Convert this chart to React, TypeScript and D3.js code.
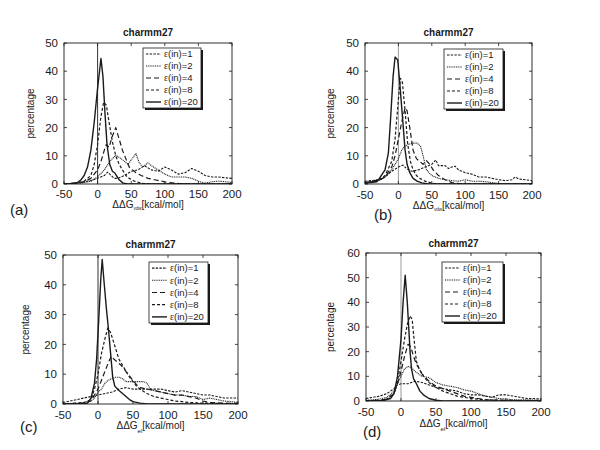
import React from "react";
import * as d3 from "d3";

type Pt = [number, number];

// ---------- DATA ----------
const X_TICKS = [-50, 0, 50, 100, 150, 200];
const Y_TICKS_50 = [0, 10, 20, 30, 40, 50];
const Y_TICKS_60 = [0, 10, 20, 30, 40, 50, 60];
const LEGEND_LABELS = ["1", "2", "4", "8", "20"];
const TITLE = "charmm27";
const PANEL_LETTERS = ["(a)", "(b)", "(c)", "(d)"];

// panel (a)
const a_e1: Pt[] = [[-50,0],[-40,0.2],[-30,0.4],[-20,0.8],[-10,1.2],[0,2],[5,2.5],[10,3],[15,4.2],[20,3],[25,2],[30,2],[40,3],[50,4.5],[60,5],[70,6.5],[80,5],[90,4.5],[100,6],[110,5],[120,3.5],[130,4],[140,5.5],[150,4.5],[160,3],[170,2.5],[180,2.5],[190,2.2],[200,2]];
const a_e2: Pt[] = [[-50,0],[-30,0.2],[-20,0.5],[-10,1],[0,2.5],[10,5],[20,8.5],[27,10.2],[35,9],[40,8],[45,7],[50,8.5],[57,10.8],[62,7.5],[67,6],[75,7.5],[80,6.5],[90,5],[100,3.5],[110,2.5],[120,2.5],[130,2.5],[140,2],[150,1],[160,0.3],[170,0.8],[180,1],[190,0.8],[200,0.5]];
const a_e4: Pt[] = [[-50,0],[-30,0.3],[-20,0.8],[-10,2],[0,5],[5,8],[10,12],[13,14],[17,13],[22,17],[27,20],[32,16],[37,12],[42,9],[47,6],[52,5],[57,4],[65,3],[75,2],[85,1.5],[95,1],[105,0.5],[120,0.2],[140,0],[200,0]];
const a_e8: Pt[] = [[-50,0],[-30,0.3],[-20,1],[-10,3],[-5,7],[0,14],[5,24],[9,29],[13,28],[17,22],[22,15],[27,10],[32,7],[37,5],[42,3],[47,2],[55,1],[65,0.3],[80,0],[200,0]];
const a_e20: Pt[] = [[-50,0],[-40,0.2],[-30,0.5],[-25,1.4],[-20,3],[-15,6],[-10,12],[-5,22],[0,34],[5,44.5],[8,38],[11,25],[14,14],[18,7],[22,4.5],[26,3.8],[32,1.5],[38,0.3],[45,0],[200,0]];

// panel (b)
const b_e1: Pt[] = [[-50,1],[-40,1.2],[-30,1.5],[-20,2.5],[-10,4.5],[0,6],[7,6.7],[12,5.5],[20,4.5],[30,5],[40,6],[50,7],[56,8.5],[60,6.5],[65,6.5],[70,6.5],[75,5.5],[80,6],[85,6.3],[90,5],[100,4],[110,3.5],[120,2.5],[130,2.5],[140,2],[150,1.5],[160,1.2],[170,1.5],[175,2.5],[180,1.8],[190,1.5],[200,1.2]];
const b_e2: Pt[] = [[-50,0.5],[-40,0.8],[-30,1.2],[-20,2.5],[-10,5],[0,9],[5,12],[10,13.5],[15,14],[20,14.5],[28,14.5],[33,13.5],[37,10],[42,5],[50,3],[60,2],[70,1.5],[80,1.2],[90,1],[100,1.5],[110,1],[120,1],[130,0.8],[140,0.5],[150,0.2],[160,0],[200,0]];
const b_e4: Pt[] = [[-50,0.3],[-40,0.5],[-30,1],[-20,2.5],[-10,6],[-5,10],[0,16],[5,22],[10,27],[13,26],[17,20],[22,12],[27,9],[32,8],[37,7],[42,8.3],[47,7],[52,5],[60,3],[70,1.5],[80,0.5],[90,0.2],[100,0],[200,0]];
const b_e8: Pt[] = [[-50,0.3],[-40,0.5],[-30,1],[-20,3],[-10,8],[-5,16],[0,30],[3,37.5],[6,36],[10,26],[14,14],[18,8],[22,5],[27,3],[32,2],[40,1],[50,0.3],[60,0],[200,0]];
const b_e20: Pt[] = [[-50,0.5],[-40,0.8],[-30,1.5],[-20,5],[-15,11],[-12,22],[-8,38],[-5,45],[-1,44],[2,36],[5,27],[8,18],[10,12],[13,7],[17,4],[22,2],[28,1],[35,0.4],[45,0],[200,0]];

// panel (c)
const c_e1: Pt[] = [[-50,0.5],[-40,1],[-30,1.5],[-20,2],[-10,2.5],[0,3],[10,3.5],[20,4],[30,5],[40,5.5],[50,5],[60,5],[70,5],[80,5],[90,5],[100,4.5],[110,4],[120,4.5],[130,4],[140,3.5],[150,3],[160,3],[170,2.5],[180,2],[190,2],[200,2]];
const c_e2: Pt[] = [[-50,0],[-30,0.2],[-20,0.5],[-10,1],[-5,2],[0,4],[5,5],[10,7],[15,8],[20,8.5],[25,9],[30,9],[35,8.5],[40,7.5],[45,7.5],[55,7.5],[65,7.5],[70,7],[75,5],[80,4.5],[90,4],[100,3.5],[110,3],[120,3],[130,2.5],[140,2.5],[150,1.5],[160,2],[170,1.5],[180,1],[190,0.8],[200,0.5]];
const c_e4: Pt[] = [[-50,0],[-20,0.3],[-10,1],[-5,3],[0,5],[5,8],[10,11],[15,14],[19,16],[23,15],[28,14],[33,13],[38,11.5],[43,10],[48,8.5],[55,6.5],[60,5.5],[70,5],[80,4.5],[90,4],[100,3.5],[110,3],[120,3],[130,2.5],[140,2],[150,1],[160,0.5],[180,0.3],[200,0.2]];
const c_e8: Pt[] = [[-50,0],[-30,0.3],[-20,0.5],[-10,1.5],[-5,5],[0,10],[5,17],[10,22],[14,25.5],[18,24],[22,21],[26,18],[30,15],[35,13],[40,11],[45,9],[50,7.5],[55,6],[60,5],[70,3.5],[80,2.5],[90,2],[100,1.5],[110,1],[120,0.8],[130,0.5],[150,0.3],[170,0.2],[200,0]];
const c_e20: Pt[] = [[-50,0],[-20,0],[-15,0.3],[-10,2],[-5,7],[-2,15],[1,28],[4,42],[6,48.5],[9,40],[12,32],[15,25],[18,17],[21,9],[24,6],[30,4.5],[35,3.5],[40,2.5],[45,1.5],[50,0.8],[60,0.3],[70,0],[200,0]];

// panel (d)
const d_e1: Pt[] = [[-50,1],[-40,1.5],[-30,2],[-20,3],[-10,5],[-5,6.5],[0,7],[10,7],[20,8],[30,7.5],[40,6.5],[50,5.5],[60,5],[70,4.5],[80,4],[90,3],[100,2.5],[110,2.5],[120,2],[130,1.5],[140,2.5],[150,2.5],[160,2],[170,1.5],[180,1],[190,1],[200,0.8]];
const d_e2: Pt[] = [[-50,0.3],[-40,0.5],[-30,0.8],[-20,1.5],[-10,4],[-5,7],[0,10],[5,13],[10,14],[15,13.5],[20,12],[25,11],[30,10],[40,9.5],[50,7.5],[60,6.5],[70,6],[80,5.5],[90,4.5],[100,4],[110,3],[120,2],[130,1.5],[140,1],[150,0.8],[160,0.5],[180,0.5],[200,0.3]];
const d_e4: Pt[] = [[-50,0],[-30,0.3],[-20,0.8],[-10,3],[-5,7],[0,12],[5,18],[10,23],[14,22],[18,18],[22,15],[26,13],[30,11],[35,9.5],[40,8],[50,6],[60,5],[70,4],[80,3],[90,2],[100,1.5],[110,1],[120,0.5],[140,0.3],[160,0.2],[200,0]];
const d_e8: Pt[] = [[-50,0],[-30,0.3],[-20,0.8],[-10,3],[-5,8],[0,16],[5,25],[9,31],[13,34.5],[16,33],[19,24],[22,16],[26,13],[30,11],[35,9],[40,7.5],[50,5.5],[60,4],[70,3],[80,2],[90,1.5],[100,1],[120,0.5],[150,0.3],[200,0]];
const d_e20: Pt[] = [[-50,0],[-25,0.2],[-15,1],[-10,3],[-5,10],[0,25],[3,40],[6,51],[9,40],[11,30],[13,20],[15,13],[18,9],[22,7],[27,4],[32,2.5],[40,1],[50,0.3],[60,0],[200,0]];

// ---------- STYLE / LAYOUT ----------
const FONT = "'Liberation Sans', Arial, Helvetica, sans-serif";
const INK = "#1a1a1a";
const DASHES: (string | undefined)[] = ["2.4,1.3", "1,0.8", "5,3", "3,2", undefined];
const WIDTHS = [1.1, 1.1, 1.2, 1.2, 1.4];

interface PanelCfg {
  id: string;
  letter: string;
  letterPos: [number, number];
  box: [number, number, number, number];
  yMax: number;
  yTicks: number[];
  series: Pt[][];
  legend: [number, number, number, number];
  zeroColor: string;
  sub: string;
  subSize: number;
  subDy: number;
  tickLabelY: number;
  xlabelY: number;
  ylabelX: number;
  titleY: number;
}

const PANELS: PanelCfg[] = [
  { id: "a", letter: PANEL_LETTERS[0], letterPos: [10, 215], box: [64, 43, 232, 184], yMax: 50, yTicks: Y_TICKS_50,
    series: [a_e1, a_e2, a_e4, a_e8, a_e20], legend: [143, 48, 201, 108], zeroColor: "#333", sub: "vdw", subSize: 4.5, subDy: 1.5,
    tickLabelY: 198, xlabelY: 208, ylabelX: 30, titleY: 36 },
  { id: "b", letter: PANEL_LETTERS[1], letterPos: [374, 220], box: [365, 43, 532, 184], yMax: 50, yTicks: Y_TICKS_50,
    series: [b_e1, b_e2, b_e4, b_e8, b_e20], legend: [444, 49, 503, 109], zeroColor: "#9a9a9a", sub: "vdw", subSize: 4.5, subDy: 1.5,
    tickLabelY: 199, xlabelY: 209, ylabelX: 330, titleY: 36 },
  { id: "c", letter: PANEL_LETTERS[2], letterPos: [20, 432], box: [63, 255, 238, 404], yMax: 50, yTicks: Y_TICKS_50,
    series: [c_e1, c_e2, c_e4, c_e8, c_e20], legend: [149, 262, 208, 323], zeroColor: "#333", sub: "el", subSize: 6, subDy: 4,
    tickLabelY: 419, xlabelY: 429, ylabelX: 25, titleY: 248 },
  { id: "d", letter: PANEL_LETTERS[3], letterPos: [363, 437], box: [366, 253, 541, 401], yMax: 60, yTicks: Y_TICKS_60,
    series: [d_e1, d_e2, d_e4, d_e8, d_e20], legend: [442, 262, 503, 322], zeroColor: "#9a9a9a", sub: "el", subSize: 6, subDy: 4,
    tickLabelY: 416, xlabelY: 427, ylabelX: 330, titleY: 247 },
];

function Panel({ cfg }: { cfg: PanelCfg }) {
  const [x0, y0, x1, y1] = cfg.box;
  const x = d3.scaleLinear().domain([-50, 200]).range([x0, x1]);
  const y = d3.scaleLinear().domain([0, cfg.yMax]).range([y1, y0]);
  const line = d3.line<Pt>().x((d) => x(d[0])).y((d) => y(d[1]));
  const tl = 3;
  const [lx0, ly0, lx1, ly1] = cfg.legend;
  const rowH = (ly1 - ly0) / LEGEND_LABELS.length;
  const cx = (x0 + x1) / 2;
  const cy = (y0 + y1) / 2;
  return (
    <g>
      <defs>
        <clipPath id={`clip-${cfg.id}`}>
          <rect x={x0} y={y0} width={x1 - x0} height={y1 - y0} />
        </clipPath>
      </defs>
      <rect x={x0} y={y0} width={x1 - x0} height={y1 - y0} fill="#fff" />
      <line x1={x(0)} x2={x(0)} y1={y0} y2={y1} stroke={cfg.zeroColor} strokeWidth={1} />
      <g clipPath={`url(#clip-${cfg.id})`}>
        {cfg.series.map((s, i) => (
          <path key={i} d={line(s) || ""} fill="none" stroke={INK} strokeWidth={WIDTHS[i]}
            strokeDasharray={DASHES[i]} strokeLinejoin="round" />
        ))}
      </g>
      <rect x={x0} y={y0} width={x1 - x0} height={y1 - y0} fill="none" stroke={INK} strokeWidth={0.9} />
      {X_TICKS.map((t) => (
        <g key={`xt${t}`}>
          <line x1={x(t)} x2={x(t)} y1={y1} y2={y1 - tl} stroke={INK} strokeWidth={0.8} />
          <line x1={x(t)} x2={x(t)} y1={y0} y2={y0 + tl} stroke={INK} strokeWidth={0.8} />
          <text x={x(t)} y={cfg.tickLabelY} textAnchor="middle" fontSize={11.5} fill={INK} fontFamily={FONT}>{t}</text>
        </g>
      ))}
      {cfg.yTicks.map((t) => (
        <g key={`yt${t}`}>
          <line x1={x0} x2={x0 + tl} y1={y(t)} y2={y(t)} stroke={INK} strokeWidth={0.8} />
          <line x1={x1} x2={x1 - tl} y1={y(t)} y2={y(t)} stroke={INK} strokeWidth={0.8} />
          <text x={x0 - 6} y={y(t)} dy="0.36em" textAnchor="end" fontSize={11.5} fill={INK} fontFamily={FONT}>{t}</text>
        </g>
      ))}
      <text x={cx} y={cfg.titleY} textAnchor="middle" fontSize={10} fontWeight="bold" fill={INK} fontFamily={FONT}>{TITLE}</text>
      <text transform={`translate(${cfg.ylabelX},${cy}) rotate(-90)`} textAnchor="middle" dy="0.35em" fontSize={10} fill={INK} fontFamily={FONT}>percentage</text>
      <text x={cx} y={cfg.xlabelY} textAnchor="middle" fontSize={10} fill={INK} fontFamily={FONT}>
        ΔΔG<tspan fontSize={cfg.subSize} dy={cfg.subDy}>{cfg.sub}</tspan><tspan dy={-cfg.subDy}>[kcal/mol]</tspan>
      </text>
      <rect x={lx0 + 2} y={ly0 + 2} width={lx1 - lx0} height={ly1 - ly0} fill={INK} />
      <rect x={lx0} y={ly0} width={lx1 - lx0} height={ly1 - ly0} fill="#fff" stroke={INK} strokeWidth={0.8} />
      {LEGEND_LABELS.map((lab, i) => {
        const ry = ly0 + rowH * (i + 0.5);
        return (
          <g key={lab}>
            <line x1={lx0 + 3} x2={lx0 + 18} y1={ry} y2={ry} stroke={INK} strokeWidth={WIDTHS[i]} strokeDasharray={DASHES[i]} />
            <text x={lx0 + 21} y={ry} dy="0.35em" fontSize={9.5} fill={INK} fontFamily={FONT}>
              <tspan fontFamily="'Liberation Serif', 'DejaVu Serif', serif">ε</tspan>(in)={lab}
            </text>
          </g>
        );
      })}
      <text x={cfg.letterPos[0]} y={cfg.letterPos[1]} fontSize={15} fill={INK} fontFamily={FONT}>{cfg.letter}</text>
    </g>
  );
}

export default function App() {
  return (
    <svg width={600} height={450} viewBox="0 0 600 450"
      style={{ position: "absolute", left: 0, top: 0, background: "#fff" }}>
      <rect x={0} y={0} width={600} height={450} fill="#fff" />
      {PANELS.map((p) => (
        <Panel key={p.id} cfg={p} />
      ))}
    </svg>
  );
}
